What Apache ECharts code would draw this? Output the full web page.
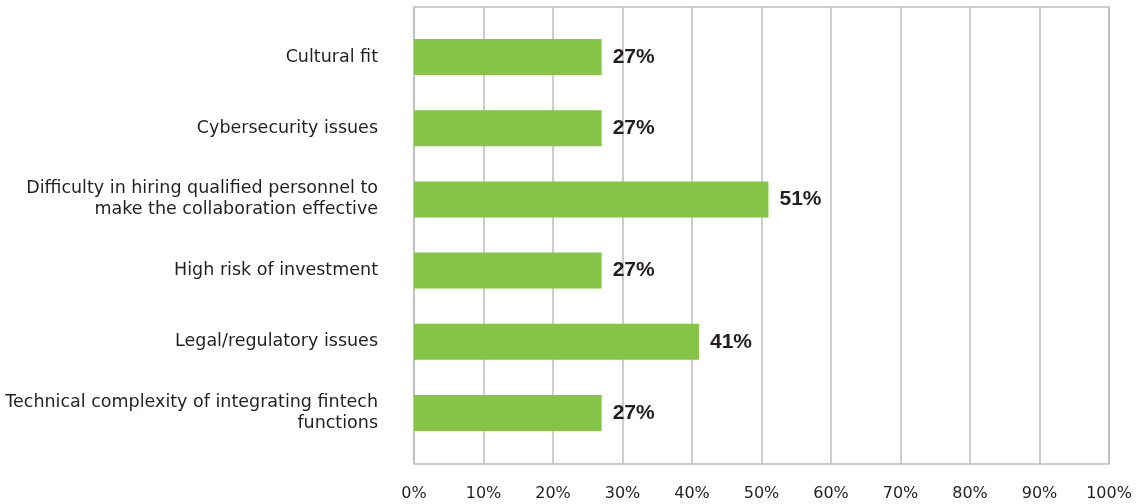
<!DOCTYPE html>
<html><head><meta charset="utf-8">
<script src="https://cdn.jsdelivr.net/npm/echarts@6/dist/echarts.min.js"></script>
<style>html,body{margin:0;padding:0;background:#fff}#c{width:1136px;height:504px}</style>
</head><body><div id="c"></div>
<script>
const categories = [
  "Cultural fit",
  "Cybersecurity issues",
  "Difficulty in hiring qualified personnel to\nmake the collaboration effective",
  "High risk of investment",
  "Legal/regulatory issues",
  "Technical complexity of integrating fintech\nfunctions"
];
const values = [27, 27, 51, 27, 41, 27];
const xTicks = [0, 10, 20, 30, 40, 50, 60, 70, 80, 90, 100];

const chart = echarts.init(document.getElementById('c'));
const font = 'DejaVu Sans, sans-serif';
chart.setOption({
  animation: false,
  grid: [
    {left: 414, right: 27, top: 7, bottom: 40, show: true, borderColor: '#bcbdc2', borderWidth: 1.5},
    {left: 414, right: 27, top: 21.5, bottom: 55.5}
  ],
  xAxis: [
    {gridIndex: 0, type: 'value', min: xTicks[0], max: xTicks[xTicks.length-1], interval: 10,
     axisLine: {show: false}, axisTick: {show: false},
     splitLine: {show: true, lineStyle: {color: '#bcbdc2', width: 1.5}},
     axisLabel: {formatter: '{value}%', color: '#231f20', fontSize: 16, fontFamily: font, margin: 22}},
    {gridIndex: 1, type: 'value', min: 0, max: 100, show: false}
  ],
  yAxis: [
    {gridIndex: 0, type: 'value', min: 0, max: 1, show: false},
    {gridIndex: 1, type: 'category', data: categories, inverse: true,
     axisLine: {show: false}, axisTick: {show: false}, splitLine: {show: false},
     axisLabel: {color: '#231f20', fontSize: 17.5, fontFamily: font, margin: 36, lineHeight: 21, align: 'right'}}
  ],
  series: [{
    type: 'bar', xAxisIndex: 1, yAxisIndex: 1, data: values, barWidth: 36,
    itemStyle: {color: '#85c446'},
    label: {show: true, position: 'right', distance: 11, formatter: '{c}%',
            color: '#231f20', fontSize: 21, fontWeight: 'bold', fontFamily: 'Liberation Sans, Arial, sans-serif'}
  }]
});
</script></body></html>
